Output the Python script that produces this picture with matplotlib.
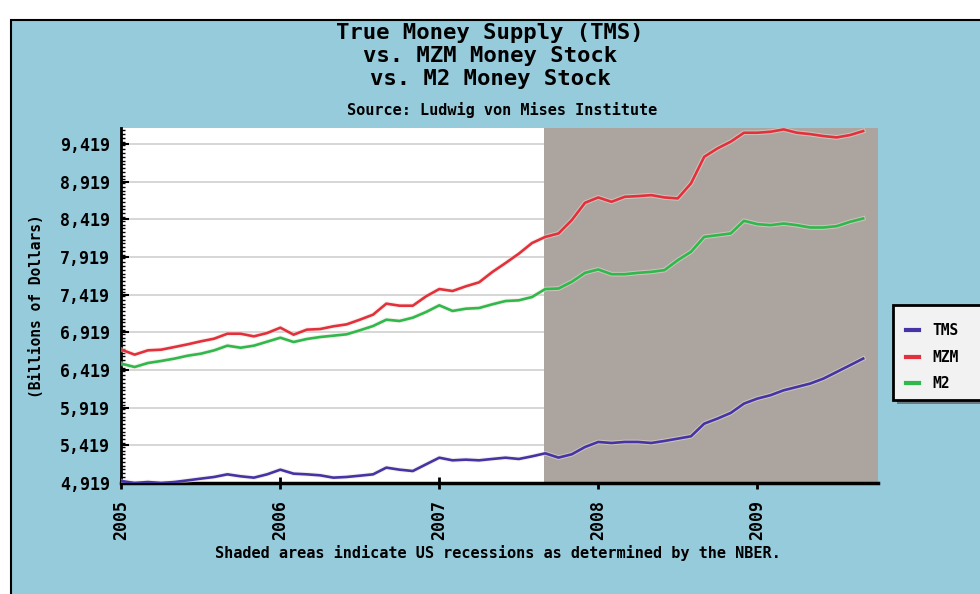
import matplotlib
matplotlib.use("Agg")
import matplotlib.pyplot as plt
import matplotlib.patheffects as pe
from matplotlib.patches import Rectangle
from matplotlib.ticker import FixedLocator, MultipleLocator, FuncFormatter
import numpy as np

months = np.arange(57)
tms = [4945, 4919, 4932, 4919, 4932, 4954, 4977, 4999, 5034, 5008, 4990, 5034,
       5096, 5043, 5034, 5021, 4990, 4999, 5016, 5034, 5123, 5096, 5078, 5167,
       5255, 5220, 5229, 5220, 5238, 5255, 5238, 5273, 5313, 5256, 5300, 5397,
       5464, 5450, 5464, 5464, 5450, 5477, 5508, 5539, 5707, 5774, 5849, 5973,
       6039, 6084, 6150, 6194, 6239, 6305, 6393, 6482, 6571]
mzm = [6689, 6623, 6680, 6689, 6724, 6760, 6800, 6835, 6901, 6901, 6866, 6910,
       6981, 6888, 6955, 6963, 6999, 7025, 7087, 7154, 7300, 7273, 7273, 7397,
       7494, 7468, 7530, 7583, 7720, 7839, 7963, 8105, 8186, 8232, 8409, 8639,
       8710, 8652, 8719, 8728, 8741, 8710, 8697, 8896, 9250, 9361, 9450, 9569,
       9569, 9582, 9613, 9569, 9551, 9525, 9507, 9538, 9591]
m2 = [6503, 6459, 6512, 6539, 6570, 6609, 6636, 6680, 6742, 6715, 6742, 6795,
      6848, 6791, 6831, 6857, 6875, 6893, 6946, 7003, 7087, 7070, 7114, 7189,
      7278, 7203, 7233, 7242, 7291, 7335, 7344, 7388, 7494, 7501, 7590, 7709,
      7754, 7691, 7691, 7709, 7722, 7745, 7877, 7988, 8187, 8209, 8232, 8400,
      8356, 8342, 8364, 8342, 8311, 8311, 8329, 8386, 8431]
dates = 2005 + months / 12.0

years = [2005, 2006, 2007, 2008, 2009]
yticks = [4919, 5419, 5919, 6419, 6919, 7419, 7919, 8419, 8919, 9419]
recession_start = 2007.66

BG = "#96cbdb"
MONO = "DejaVu Sans Mono"

W, H = 980, 594
fig = plt.figure(figsize=(W / 100, H / 100), dpi=100, facecolor="white")

# outer panel with black frame
fig.patches.append(Rectangle((10.5 / W, -0.05), 1.1, 1 - 20 / H + 0.05,
                             transform=fig.transFigure, facecolor=BG,
                             edgecolor="black", linewidth=1.5, zorder=-5))

ax = fig.add_axes([121.4 / W, 1 - 483 / H, (878 - 121.4) / W, (483 - 128.3) / H])
ax.set_facecolor("white")

ax.axvspan(recession_start, 2009.76, color="#aba49f", zorder=1, lw=0)

halo = [pe.Stroke(linewidth=3.4, foreground="#ece4d4", alpha=0.5), pe.Normal()]
ax.plot(dates, tms, color="#4634a6", lw=1.9, label="TMS", zorder=3, path_effects=halo)
ax.plot(dates, mzm, color="#e3303c", lw=1.9, label="MZM", zorder=3, path_effects=halo)
ax.plot(dates, m2, color="#2fb84c", lw=1.9, label="M2", zorder=3, path_effects=halo)

ax.set_xlim(2005, 2009.76)
ax.set_ylim(4919, 9628)

ax.yaxis.set_major_locator(FixedLocator(yticks))
ax.yaxis.set_minor_locator(MultipleLocator(50))
ax.yaxis.set_major_formatter(FuncFormatter(lambda v, p: f"{v:,.0f}"))
ax.xaxis.set_major_locator(FixedLocator(years))
ax.set_xticklabels([str(y) for y in years], rotation=90, family=MONO,
                   fontweight="bold", fontsize=12)
for lab in ax.get_yticklabels():
    lab.set_family(MONO)
    lab.set_fontweight("bold")
    lab.set_fontsize(12)

ax.grid(axis="y", color="#cfcfcf", lw=1.2, zorder=0)
ax.set_axisbelow(True)

for s in ["top", "right"]:
    ax.spines[s].set_visible(False)
ax.spines["left"].set_linewidth(2)
ax.spines["bottom"].set_linewidth(2.5)
ax.tick_params(axis="y", which="major", length=6, width=1.5, direction="in", pad=8)
ax.tick_params(axis="y", which="minor", length=3, width=1, direction="in")
ax.tick_params(axis="x", which="major", length=8, width=2, direction="inout", pad=8)

ax.set_ylabel("(Billions of Dollars)", family=MONO, fontweight="bold",
              fontsize=10.5, labelpad=12)

fig.text(490 / W, 1 - 33 / H, "True Money Supply (TMS)", ha="center", va="center",
         family=MONO, fontweight="bold", fontsize=16)
fig.text(490 / W, 1 - 56 / H, "vs. MZM Money Stock", ha="center", va="center",
         family=MONO, fontweight="bold", fontsize=16)
fig.text(490 / W, 1 - 79 / H, "vs. M2 Money Stock", ha="center", va="center",
         family=MONO, fontweight="bold", fontsize=16)
fig.text(502 / W, 1 - 110 / H, "Source: Ludwig von Mises Institute", ha="center",
         va="center", family=MONO, fontweight="bold", fontsize=11)
fig.text(498 / W, 1 - 553 / H,
         "Shaded areas indicate US recessions as determined by the NBER.",
         ha="center", va="center", family=MONO, fontweight="bold", fontsize=11)

# legend box, running off the right edge
fig.patches.append(Rectangle((897 / W, 1 - 404 / H), 100 / W, 95 / H,
                             transform=fig.transFigure, facecolor="#6a7a80",
                             edgecolor="none", zorder=4))
fig.patches.append(Rectangle((893 / W, 1 - 400 / H), 100 / W, 95 / H,
                             transform=fig.transFigure, facecolor="#f2f2f2",
                             edgecolor="black", linewidth=2, zorder=5))
leg = fig.legend(loc="upper left", bbox_to_anchor=(893 / W, 1 - 310 / H),
                 frameon=False, handlelength=0.9, handletextpad=0.9,
                 labelspacing=0.8, prop={"family": MONO, "weight": "bold", "size": 10.5})
leg.set_zorder(6)
for h in leg.legend_handles:
    h.set_linewidth(3)
    h.set_path_effects([])

fig.savefig("out.png", dpi=100, facecolor="white")
